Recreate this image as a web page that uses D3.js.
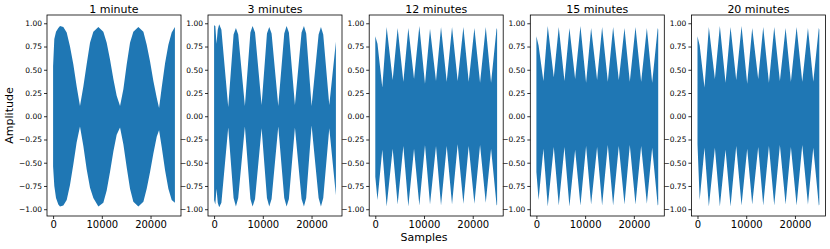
<!DOCTYPE html>
<html>
<head>
<meta charset="utf-8">
<script src="https://cdn.jsdelivr.net/npm/d3@7"></script>
<style>
body { margin: 0; background: #fff; }
svg { display: block; font-family: "DejaVu Sans", sans-serif; }
</style>
</head>
<body>
<svg width="830" height="249"></svg>
<script>
// titoli dei pannelli e tick
var titles = ["1 minute", "3 minutes", "12 minutes", "15 minutes", "20 minutes"];
var xTicks = [0, 10000, 20000];
var yTicks = [-1, -0.75, -0.5, -0.25, 0, 0.25, 0.5, 0.75, 1];

// inviluppo: campioni, bordo superiore, bordo inferiore
var samples1 = [0, 250, 600, 1075, 1420, 2100, 2790, 3470, 4150, 4840, 5520, 6210, 6890, 7580, 8260, 9290, 10310, 11000, 11680, 12370, 13050, 13740, 14420, 15110, 15790, 16470, 17500, 18530, 19210, 19900, 20580, 21270, 21750, 22290, 22980, 23660, 24340, 25000];
var upper1 = [0.54, 0.83, 0.91, 0.95, 0.97, 0.96, 0.90, 0.75, 0.56, 0.32, 0.11, 0.32, 0.56, 0.79, 0.91, 0.96, 0.91, 0.79, 0.61, 0.40, 0.22, 0.11, 0.29, 0.56, 0.79, 0.91, 0.96, 0.91, 0.77, 0.59, 0.38, 0.20, 0.09, 0.31, 0.57, 0.77, 0.90, 0.96];
var lower1 = [-0.54, -0.75, -0.88, -0.95, -0.97, -0.96, -0.90, -0.74, -0.52, -0.28, -0.11, -0.32, -0.57, -0.77, -0.88, -0.97, -0.93, -0.80, -0.60, -0.38, -0.20, -0.12, -0.30, -0.55, -0.78, -0.92, -0.97, -0.92, -0.78, -0.60, -0.40, -0.22, -0.15, -0.33, -0.58, -0.78, -0.90, -0.93];

var samples2 = [0, 250, 500, 750, 1050, 1500, 2900, 4000, 4480, 4950, 6320, 7450, 7900, 8400, 9750, 10850, 11320, 11800, 13170, 14400, 14880, 15350, 16590, 17950, 18440, 18900, 20010, 21450, 21930, 22400, 23640, 25000];
var upper2 = [0.98, 0.97, 0.78, 0.93, 0.99, 0.93, 0.10, 0.88, 0.95, 0.88, 0.11, 0.90, 0.97, 0.90, 0.12, 0.89, 0.96, 0.89, 0.11, 0.89, 0.97, 0.90, 0.12, 0.90, 0.97, 0.89, 0.11, 0.88, 0.96, 0.88, 0.12, 0.80];
var lower2 = [-0.90, -0.95, -0.78, -0.93, -0.98, -0.93, -0.12, -0.88, -0.97, -0.88, -0.11, -0.89, -0.97, -0.89, -0.13, -0.88, -0.97, -0.89, -0.11, -0.88, -0.97, -0.89, -0.12, -0.89, -0.97, -0.88, -0.10, -0.88, -0.97, -0.88, -0.13, -0.85];

// pannelli 12, 15, 20 minuti: stessi punti di campionamento
var samplesLobes = [0, 450, 1440, 2330, 3570, 4590, 5760, 6780, 7950, 9040, 10200, 11230, 12460, 13490, 14660, 15750, 16910, 18080, 19170, 20340, 21500, 22670, 23760, 24900, 25000];
var upper3 = [0.86, 0.78, 0.31, 0.96, 0.39, 0.95, 0.37, 0.95, 0.40, 0.97, 0.35, 0.94, 0.38, 0.96, 0.37, 0.96, 0.38, 0.96, 0.37, 0.95, 0.36, 0.96, 0.36, 0.95, 0.93];
var lower3 = [-0.65, -0.90, -0.36, -0.97, -0.35, -0.95, -0.32, -0.97, -0.35, -0.96, -0.31, -0.95, -0.32, -0.96, -0.32, -0.95, -0.30, -0.94, -0.32, -0.94, -0.31, -0.93, -0.35, -0.96, -0.95];
var upper4 = [0.86, 0.76, 0.38, 0.97, 0.42, 0.96, 0.38, 0.95, 0.40, 0.97, 0.36, 0.95, 0.39, 0.96, 0.37, 0.96, 0.39, 0.95, 0.37, 0.96, 0.37, 0.95, 0.36, 0.95, 0.93];
var lower4 = [-0.60, -0.90, -0.35, -0.97, -0.33, -0.96, -0.33, -0.97, -0.36, -0.96, -0.32, -0.95, -0.33, -0.96, -0.31, -0.96, -0.32, -0.95, -0.31, -0.95, -0.32, -0.94, -0.34, -0.96, -0.95];
var upper5 = [0.86, 0.76, 0.31, 0.96, 0.40, 0.97, 0.36, 0.96, 0.39, 0.97, 0.35, 0.95, 0.40, 0.96, 0.36, 0.96, 0.38, 0.95, 0.37, 0.96, 0.37, 0.95, 0.37, 0.95, 0.93];
var lower5 = [-0.30, -0.90, -0.34, -0.97, -0.34, -0.97, -0.36, -0.97, -0.32, -0.96, -0.35, -0.95, -0.33, -0.96, -0.32, -0.96, -0.31, -0.95, -0.33, -0.96, -0.31, -0.95, -0.34, -0.96, -0.95];

var series = [
  [samples1, upper1, lower1],
  [samples2, upper2, lower2],
  [samplesLobes, upper3, lower3],
  [samplesLobes, upper4, lower4],
  [samplesLobes, upper5, lower5]
];

var svg = d3.select("svg");
var lefts = [47, 208, 369.2, 530.3, 691.4];
var pw = 134, plotTop = 15, ph = 201;
var blue = "#1f77b4";

var y = d3.scaleLinear().domain([-1.073, 1.089]).range([plotTop + ph, plotTop]);
var fmtY = function (d) { return d3.format(".2f")(d).replace("-", "\u2212"); };

series.forEach(function (s, i) {
  var left = lefts[i];
  var x = d3.scaleLinear().domain([-1250, 26250]).range([left, left + pw]);
  var pts = s[0].map(function (v, k) { return { s: v, hi: s[1][k], lo: s[2][k] }; });

  svg.append("clipPath").attr("id", "clip" + i)
    .append("rect").attr("x", left).attr("y", plotTop).attr("width", pw).attr("height", ph);

  svg.append("path")
    .datum(pts)
    .attr("clip-path", "url(#clip" + i + ")")
    .attr("fill", blue)
    .attr("d", d3.area()
      .x(function (d) { return x(d.s); })
      .y0(function (d) { return y(d.lo); })
      .y1(function (d) { return y(d.hi); }));

  // assi
  var gx = svg.append("g").attr("transform", "translate(0," + (plotTop + ph) + ")")
    .call(d3.axisBottom(x).tickValues(xTicks).tickFormat(d3.format("d")).tickSize(3).tickPadding(2));
  gx.selectAll("text").attr("font-size", 10).attr("fill", "#000");
  var gy = svg.append("g").attr("transform", "translate(" + left + ",0)")
    .call(d3.axisLeft(y).tickValues(yTicks).tickFormat(fmtY).tickSize(3).tickPadding(2));
  gy.selectAll("text").attr("font-size", 7.5).attr("fill", "#000");
  [gx, gy].forEach(function (g) {
    g.select(".domain").remove();
    g.attr("font-family", null);
    g.selectAll("line").attr("stroke", "#000").attr("stroke-width", 0.8);
  });

  svg.append("rect")
    .attr("x", left).attr("y", plotTop).attr("width", pw).attr("height", ph)
    .attr("fill", "none").attr("stroke", "#000").attr("stroke-width", 0.8);

  svg.append("text")
    .attr("x", left + pw / 2).attr("y", 13)
    .attr("text-anchor", "middle").attr("font-size", 11)
    .text(titles[i]);
});

svg.append("text")
  .attr("transform", "translate(13," + (plotTop + ph / 2) + ") rotate(-90)")
  .attr("text-anchor", "middle").attr("font-size", 11)
  .text("Amplitude");

svg.append("text")
  .attr("x", 424).attr("y", 240.5)
  .attr("text-anchor", "middle").attr("font-size", 11)
  .text("Samples");
</script>
</body>
</html>
